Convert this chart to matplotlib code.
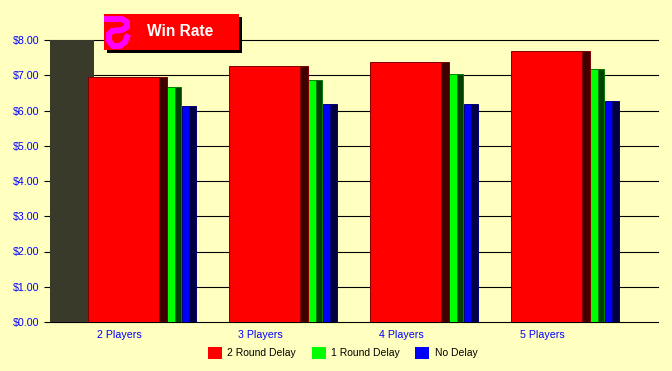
import matplotlib
matplotlib.use('Agg')
import matplotlib.pyplot as plt
import numpy as np
from matplotlib.lines import Line2D
from matplotlib.patches import Rectangle, Patch

# Values
players = ['2 Players', '3 Players', '4 Players', '5 Players']
ticks_y = [0, 1, 2, 3, 4, 5, 6, 7, 8]
round2 = [6.96, 7.25, 7.38, 7.70]
round1 = [6.67, 6.87, 7.03, 7.18]
nodelay = [6.13, 6.19, 6.19, 6.27]
backdrop = [8.0]

BG = '#FFFFC0'
W, H = 672, 371
plt.rcParams['font.family'] = ['Liberation Sans', 'DejaVu Sans']

fig = plt.figure(figsize=(W / 100, H / 100), dpi=100, facecolor=BG)
# plot area in pixels: x 50-658, y 40-322
ax = fig.add_axes([50 / W, 1 - 322 / H, 608 / W, 282 / H], facecolor=BG)

step = 141.0  # pixels per category
ax.set_xlim((50 - 119) / step, (658 - 119) / step)
ax.set_ylim(0, 8)

x = np.arange(len(players))
# offsets/widths in category units
def bar3d(off, wid, dep, vals, col, edge, dark, z):
    ax.bar(x + off / step, vals, wid / step, align='edge', color=col, edgecolor=edge, linewidth=0.7, zorder=z)
    ax.bar(x + (off + wid) / step, vals, dep / step, align='edge', color=dark, edgecolor=edge, linewidth=0.7, zorder=z)

ax.bar([-0.489], backdrop, 44 / step, align='edge', color='#3A3A2A', linewidth=0, zorder=2)
bar3d(-31, 71, 7.5, round2, '#FF0000', '#800000', '#400000', 5)
bar3d(48, 7.5, 6.5, round1, '#00FF00', '#008000', '#004000', 4)
bar3d(63, 7, 7, nodelay, '#0000FF', '#000080', '#000040', 3)

ax.set_yticks(ticks_y)
ax.set_yticklabels(['$%d.00' % v for v in ticks_y], color='#0000FF', fontsize=7.7)
ax.set_xticks(x)
ax.set_xticklabels(players, color='#0000FF', fontsize=7.7)
ax.tick_params(axis='x', length=0, pad=5.5)
ax.tick_params(axis='y', length=4, width=0.8, color='black', pad=3.5)
ax.grid(axis='y', color='black', linewidth=0.8, zorder=1)
ax.set_axisbelow(True)
for s in ax.spines.values():
    s.set_visible(False)
for t in ax.yaxis.get_gridlines() + ax.yaxis.get_ticklines():
    t.set_clip_on(False)

# title box, pixel coordinates
def fx(px):
    return px / W
def fy(py):
    return 1 - py / H

fig.add_artist(Rectangle((fx(107), fy(52.5)), 135 / W, 35.5 / H, transform=fig.transFigure, color='black', lw=0, zorder=10))
fig.add_artist(Rectangle((fx(104), fy(49.5)), 135 / W, 35.5 / H, transform=fig.transFigure, color='#FF0000', lw=0, zorder=11))
logo_x = [107, 122, 127, 127, 122, 112, 109, 109, 113, 120, 125, 127]
logo_y = [19, 19, 22, 27, 30, 31, 34, 41, 46, 46, 42, 37]
fig.add_artist(Line2D([fx(p) for p in logo_x], [fy(p) for p in logo_y], transform=fig.transFigure,
                      color='#FF00FF', linewidth=4.3, zorder=12, solid_joinstyle='round'))
fig.text(fx(180.5), fy(31), 'Win Rate', color='white', fontsize=11.2, fontweight='bold',
         ha='center', va='center', zorder=12)

handles = [Patch(facecolor='#FF0000'), Patch(facecolor='#00FF00'), Patch(facecolor='#0000FF')]
fig.legend(handles, ['2 Round Delay', '1 Round Delay', 'No Delay'], loc='center left',
           bbox_to_anchor=(fx(208), fy(353)), ncol=3, frameon=False, fontsize=7.5, borderpad=0,
           borderaxespad=0, handlelength=1.35, handleheight=1.3, handletextpad=0.5, columnspacing=1.5,
           labelcolor='black')

fig.savefig('out.png', dpi=100, facecolor=BG)
